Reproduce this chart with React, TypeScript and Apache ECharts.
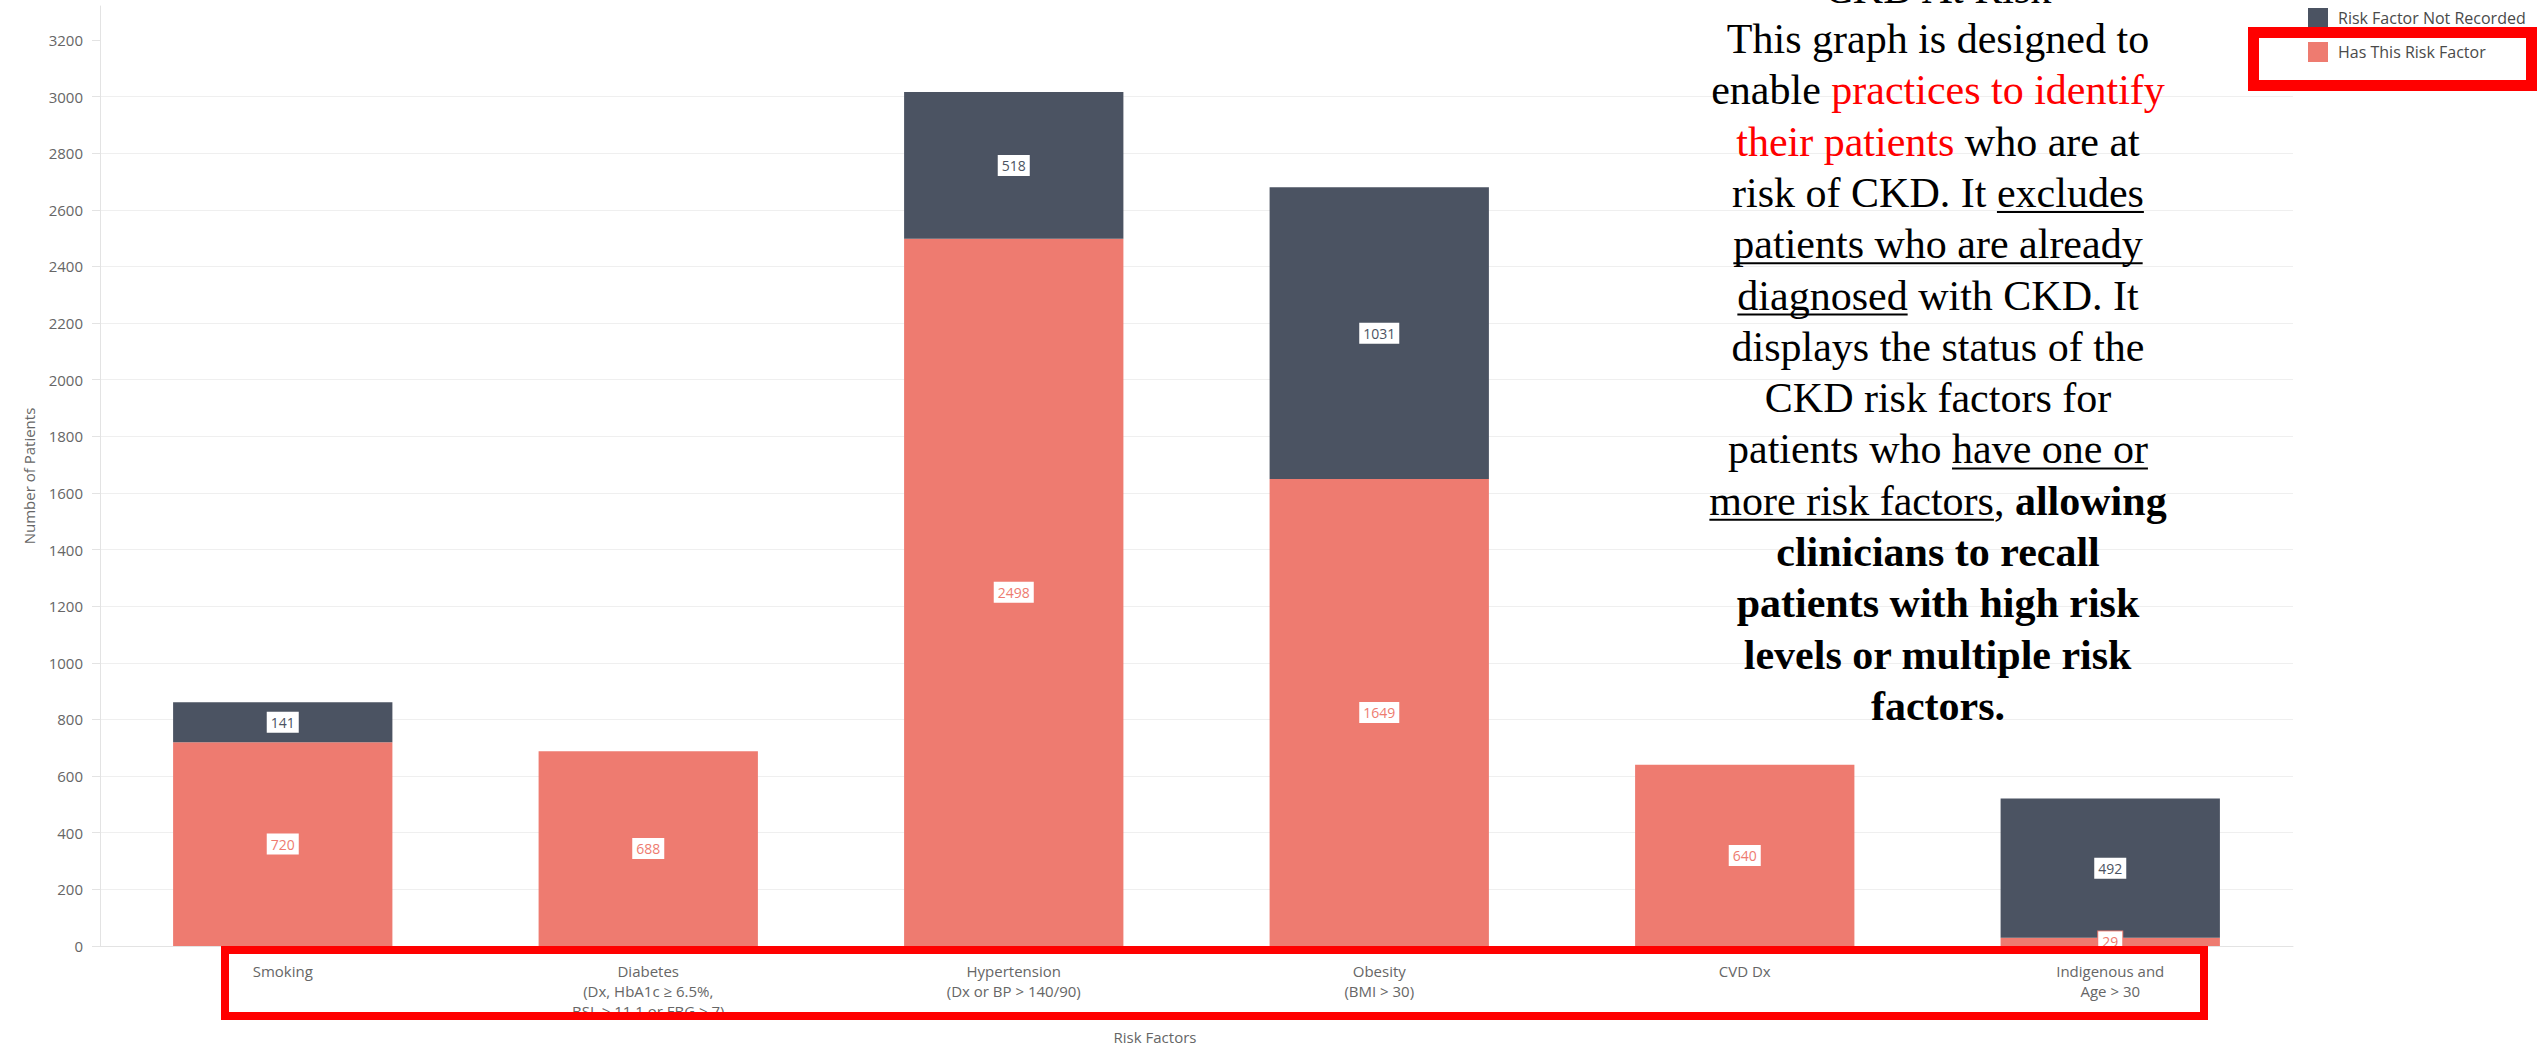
import React, { useEffect, useRef } from "react";
import * as echarts from "echarts";

// ---------- data ----------
const categories: string[] = [
  "Smoking",
  "Diabetes\n(Dx, HbA1c ≥ 6.5%,\nBSL > 11.1 or FBG > 7)",
  "Hypertension\n(Dx or BP > 140/90)",
  "Obesity\n(BMI > 30)",
  "CVD Dx",
  "Indigenous and\nAge > 30",
];
const hasRiskFactor: number[] = [720, 688, 2498, 1649, 640, 29];
const notRecorded: (number | null)[] = [141, null, 518, 1031, null, 492];
const yTicks: number[] = [0, 200, 400, 600, 800, 1000, 1200, 1400, 1600, 1800, 2000, 2200, 2400, 2600, 2800, 3000, 3200];
const hasName = "Has This Risk Factor";
const notName = "Risk Factor Not Recorded";
const yAxisTitle = "Number of Patients";
const xAxisTitle = "Risk Factors";

type Seg = { t: string; red?: boolean; b?: boolean; u?: boolean };
const noteTitle = "CKD At Risk";
const noteLines: Seg[][] = [
  [{ t: "This graph is designed to" }],
  [{ t: "enable " }, { t: "practices to identify", red: true }],
  [{ t: "their patients", red: true }, { t: " who are at" }],
  [{ t: "risk of CKD. It " }, { t: "excludes", u: true }],
  [{ t: "patients who are already", u: true }],
  [{ t: "diagnosed", u: true }, { t: " with CKD. It" }],
  [{ t: "displays the status of the" }],
  [{ t: "CKD risk factors for" }],
  [{ t: "patients who " }, { t: "have one or", u: true }],
  [{ t: "more risk factors", u: true }, { t: ", " }, { t: "allowing", b: true }],
  [{ t: "clinicians to recall", b: true }],
  [{ t: "patients with high risk", b: true }],
  [{ t: "levels or multiple risk", b: true }],
  [{ t: "factors.", b: true }],
];

// ---------- style ----------
const DARK = "#4b5362";
const SALMON = "#ee7b70";
const AXIS_FONT = "Open Sans";
const NOTE_FONT = "Liberation Serif";
const NOTE_SIZE = 42;
const NOTE_CX = 1938;
const NOTE_TOP = 39;
const NOTE_LH = 51.3;

export default function App() {
  const ref = useRef<HTMLDivElement>(null);

  useEffect(() => {
    const el = ref.current!;
    const chart = echarts.init(el, null, { renderer: "svg" });

    const canvas = document.createElement("canvas");
    const ctx = canvas.getContext("2d")!;
    const measure = (t: string, bold?: boolean) => {
      ctx.font = `${bold ? "bold " : ""}${NOTE_SIZE}px "${NOTE_FONT}"`;
      return ctx.measureText(t).width;
    };

    const graphics: any[] = [];
    graphics.push({
      type: "text",
      x: NOTE_CX,
      y: NOTE_TOP - NOTE_LH + 1,
      z: 50,
      silent: true,
      style: {
        text: noteTitle,
        fontFamily: NOTE_FONT,
        fontSize: NOTE_SIZE,
        fontWeight: "normal",
        fill: "#000",
        align: "center",
        verticalAlign: "middle",
      },
    });
    noteLines.forEach((line, i) => {
      const y = NOTE_TOP + i * NOTE_LH;
      const widths = line.map((s) => measure(s.t, s.b));
      const total = widths.reduce((a, b) => a + b, 0);
      let x = NOTE_CX - total / 2;
      line.forEach((s, j) => {
        graphics.push({
          type: "text",
          x,
          y,
          z: 50,
          silent: true,
          style: {
            text: s.t,
            fontFamily: NOTE_FONT,
            fontSize: NOTE_SIZE,
            fontWeight: s.b ? "bold" : "normal",
            fill: s.red ? "#ff0000" : "#000000",
            align: "left",
            verticalAlign: "middle",
          },
        });
        if (s.u) {
          graphics.push({
            type: "line",
            z: 50,
            silent: true,
            shape: { x1: x, y1: y + 19, x2: x + widths[j], y2: y + 19 },
            style: { stroke: "#000", lineWidth: 2 },
          });
        }
        x += widths[j];
      });
    });

    // x axis title
    graphics.push({
      type: "text",
      x: 1155,
      y: 1037,
      z: 50,
      silent: true,
      style: {
        text: xAxisTitle,
        fontFamily: AXIS_FONT,
        fontSize: 15,
        fill: "#666",
        align: "center",
        verticalAlign: "middle",
      },
    });

    // red annotation boxes
    graphics.push({
      type: "rect",
      z: 100,
      silent: true,
      shape: { x: 225, y: 950, width: 1979, height: 66 },
      style: { fill: "none", stroke: "#ff0000", lineWidth: 8 },
    });
    graphics.push({
      type: "rect",
      z: 100,
      silent: true,
      shape: { x: 2253.5, y: 32.5, width: 278, height: 53 },
      style: { fill: "none", stroke: "#ff0000", lineWidth: 11 },
    });

    const labelBase = {
      show: true,
      position: "inside",
      backgroundColor: "#fff",
      borderWidth: 1,
      padding: [3, 4],
      fontSize: 14,
      lineHeight: 15,
      fontFamily: AXIS_FONT,
    };

    chart.setOption({
      animation: false,
      textStyle: { fontFamily: AXIS_FONT },
      grid: { left: 100, right: 246, top: 6, bottom: 101, containLabel: false },
      legend: {
        orient: "vertical",
        left: 2303,
        top: 3,
        itemWidth: 20,
        itemHeight: 20,
        itemGap: 14,
        icon: "rect",
        data: [notName, hasName],
        textStyle: { fontSize: 16, color: "#4a4a4a", padding: [0, 0, 0, 5], fontFamily: AXIS_FONT },
      },
      xAxis: {
        type: "category",
        data: categories,
        axisLine: { show: true, lineStyle: { color: "#e3e3e3" } },
        axisTick: { show: false },
        axisLabel: { interval: 0, fontSize: 15, lineHeight: 20, color: "#666", margin: 15, fontFamily: AXIS_FONT },
      },
      yAxis: {
        type: "value",
        min: 0,
        max: 3320,
        interval: 200,
        name: yAxisTitle,
        nameLocation: "middle",
        nameGap: 64,
        nameTextStyle: { fontSize: 15, color: "#666", fontFamily: AXIS_FONT },
        axisLine: { show: true, lineStyle: { color: "#e3e3e3" } },
        axisTick: { show: true, length: 8, lineStyle: { color: "#e3e3e3" }, customValues: yTicks },
        axisLabel: {
          fontSize: 15,
          color: "#666",
          margin: 17,
          customValues: yTicks,
          fontFamily: AXIS_FONT,
          formatter: (v: number) => String(v),
        },
        splitLine: { show: true, lineStyle: { color: "#efefef" }, showMaxLine: false },
      },
      series: [
        {
          name: hasName,
          type: "bar",
          stack: "total",
          barWidth: "60%",
          data: hasRiskFactor,
          itemStyle: { color: SALMON },
          label: { ...labelBase, color: SALMON, borderColor: SALMON },
        },
        {
          name: notName,
          type: "bar",
          stack: "total",
          barWidth: "60%",
          data: notRecorded,
          itemStyle: { color: DARK },
          label: { ...labelBase, color: DARK, borderColor: DARK },
        },
      ],
      graphic: graphics,
    });

    return () => chart.dispose();
  }, []);

  return (
    <div
      ref={ref}
      style={{ position: "absolute", left: 0, top: 0, width: 2539, height: 1047, background: "#fff" }}
    />
  );
}
